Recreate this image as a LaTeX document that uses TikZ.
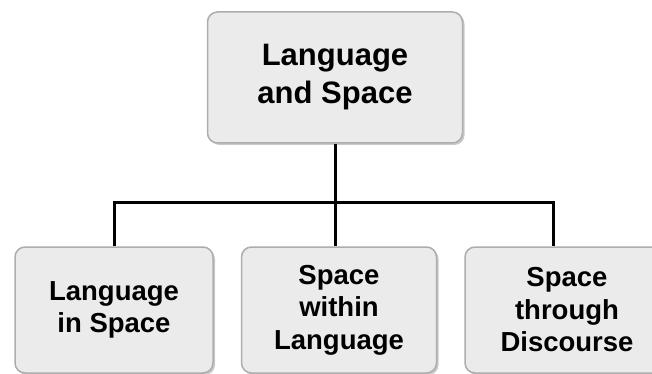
\documentclass[tikz,border=0pt]{standalone}
\usepackage{fontspec}
\setmainfont{Liberation Sans}
\usetikzlibrary{shadows}
\definecolor{boxfill}{HTML}{EBEBEB}
\definecolor{boxline}{HTML}{ADADAD}

\begin{document}
\begin{tikzpicture}[x=1pt, y=-1pt,
	topic/.style={draw=boxline, fill=boxfill, line width=1.5pt, rounded corners=10pt,
		align=center, inner sep=0pt,
		drop shadow={shadow xshift=2pt, shadow yshift=-2pt, fill=black!35, opacity=0.6}},
	bigtext/.style={font=\fontsize{31}{38}\selectfont\bfseries},
	smalltext/.style={font=\fontsize{27.5}{32.5}\selectfont\bfseries},
	link/.style={line width=3pt, black}]

	% Fix the page size
	\useasboundingbox (0,0) rectangle (652,374);
	\clip (0,0) rectangle (652,374);

	% Draw the boxes
	\node[topic, bigtext, minimum width=255pt, minimum height=131pt] (langspace) at (335,77.5) {Language\\and Space};
	\node[topic, smalltext, minimum width=198pt, minimum height=126pt] (inspace) at (114,310) {Language\\in Space};
	\node[topic, smalltext, minimum width=195pt, minimum height=126pt] (within) at (339,310) {Space\\within\\Language};
	\node[topic, smalltext, minimum width=212pt, minimum height=126pt] (discourse) at (571,310) {\hspace*{-8pt}Space\\\hspace*{-8pt}through\\\hspace*{-8pt}Discourse};

	% Draw the tree lines
	\draw[link] (langspace.south) -- (langspace.south |- within.north);
	\draw[link] (inspace.north) -- ++(0,-44) -| ([xshift=-18pt]discourse.north);

\end{tikzpicture}
\end{document}
